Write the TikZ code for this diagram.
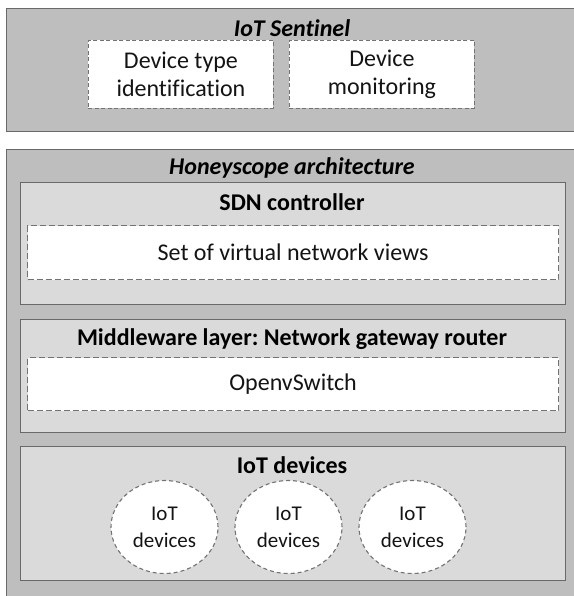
\documentclass[tikz,border=0pt]{standalone}
\usepackage{fontspec}
\setmainfont{Carlito}[Ligatures={NoCommon}]
\usetikzlibrary{shapes.geometric}
\definecolor{outerfill}{RGB}{190,190,190}
\definecolor{layerfill}{RGB}{218,218,218}
\definecolor{edgegray}{RGB}{105,105,105}
\definecolor{dashgray}{RGB}{115,115,115}
\definecolor{inktext}{RGB}{20,20,20}
\tikzset{
  x=1pt, y=-1pt,
  outerbox/.style={draw=edgegray, line width=1.2pt, fill=outerfill, rectangle, inner sep=0pt, anchor=north west},
  layerbox/.style={draw=edgegray, line width=1.1pt, fill=layerfill, rectangle, inner sep=0pt, anchor=north west},
  dashbox/.style={draw=dashgray, line width=1.1pt, dash pattern=on 6pt off 3pt, fill=white, rectangle, inner sep=0pt, anchor=north west, align=center, text=inktext, font=\fontsize{24}{28}\selectfont},
  devcircle/.style={draw=dashgray, line width=1.1pt, dash pattern=on 4pt off 3pt, fill=white, ellipse, inner sep=0pt, minimum width=107pt, minimum height=93pt, align=center, text=inktext, font=\fontsize{21}{27}\selectfont},
  titletext/.style={text=black, font=\fontsize{24}{29}\selectfont\bfseries, inner sep=0pt},
  archtitle/.style={titletext, font=\fontsize{24}{29}\selectfont\bfseries\itshape}
}
\frenchspacing
\begin{document}
\begin{tikzpicture}
\useasboundingbox (0,0) rectangle (573,596);
\fill[white] (0,0) rectangle (573,596);

% IoT Sentinel
\node[outerbox, minimum width=580pt, minimum height=123pt] (sentinel) at (6,8) {};
\node[archtitle] (sentineltitle) at (292,28) {IoT Sentinel};
\node[dashbox, line width=0.9pt, dash pattern=on 4pt off 2.5pt, minimum width=185pt, minimum height=68pt] (typeid) at (88,40) {Device type\\identification};
\node[dashbox, line width=0.9pt, dash pattern=on 4pt off 2.5pt, minimum width=185pt, minimum height=68pt] (monitor) at (289,40) {Device\\monitoring};

% Honeyscope architecture
\node[outerbox, minimum width=580pt, minimum height=460pt] (honeyscope) at (6,149) {};
\node[archtitle] (honeytitle) at (292,168) {Honeyscope architecture};

% SDN controller layer
\node[layerbox, minimum width=545pt, minimum height=122pt] (sdn) at (20,182) {};
\node[titletext] (sdntitle) at (292,202) {SDN controller};
\node[dashbox, minimum width=531pt, minimum height=54pt] (views) at (27,225) {Set of virtual network views};

% Middleware layer
\node[layerbox, minimum width=545pt, minimum height=113pt] (middleware) at (20,319) {};
\node[titletext] (middletitle) at (292,339) {Middleware layer: Network gateway router};
\node[dashbox, minimum width=531pt, minimum height=53pt] (ovs) at (27,357) {OpenvSwitch};

% IoT devices layer
\node[layerbox, minimum width=545pt, minimum height=134pt] (devices) at (20,446) {};
\node[titletext] (devtitle) at (292,465) {IoT devices};
\node[devcircle] (devA) at (164.5,527) {IoT\\devices};
\node[devcircle] (devB) at (288.5,527) {IoT\\devices};
\node[devcircle] (devC) at (412.5,527) {IoT\\devices};
\end{tikzpicture}
\end{document}
